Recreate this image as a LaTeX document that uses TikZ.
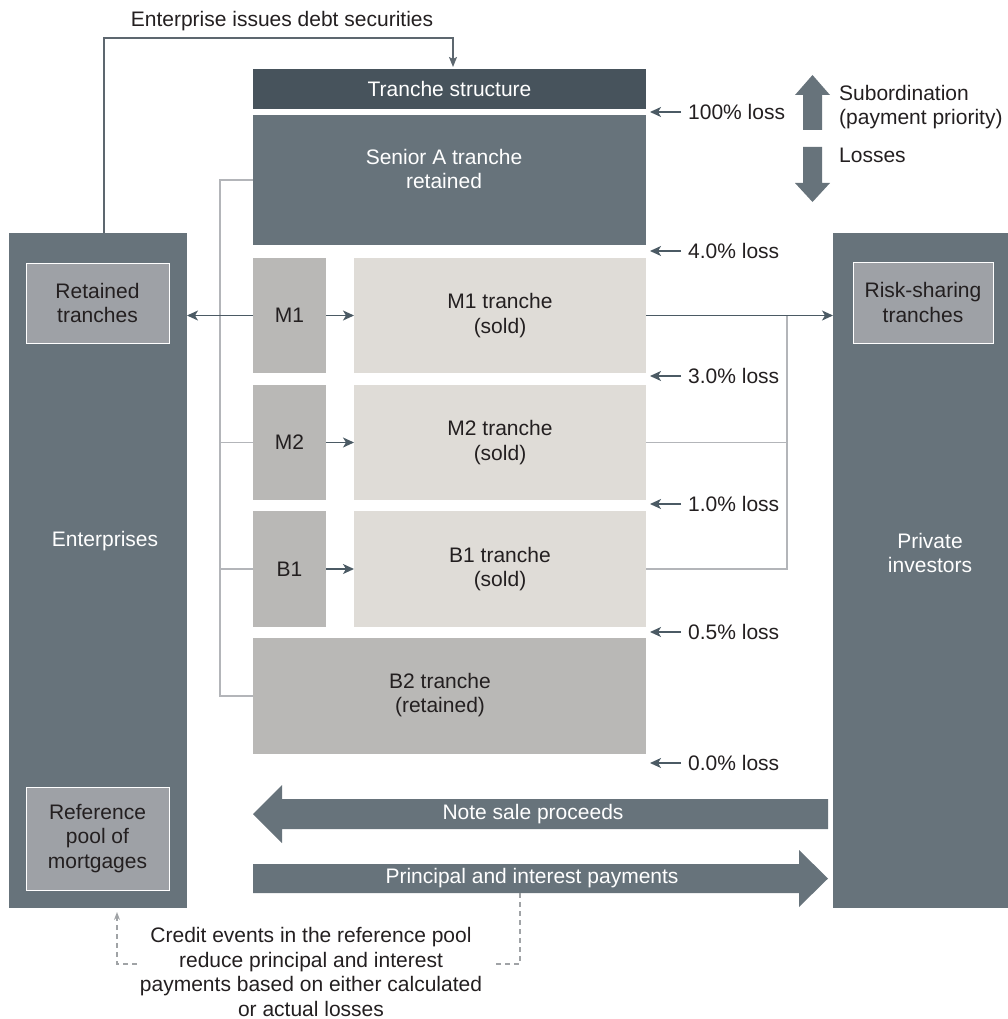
\documentclass[tikz,border=0pt]{standalone}
\usepackage{fontspec}
\setmainfont{Liberation Sans}
\usetikzlibrary{arrows.meta,calc}
\definecolor{slate}{HTML}{67737B}
\definecolor{darkslate}{HTML}{47535C}
\definecolor{innerg}{HTML}{9EA1A6}
\definecolor{midg}{HTML}{B9B8B6}
\definecolor{lightg}{HTML}{DFDCD7}
\definecolor{linedark}{HTML}{4B5A64}
\definecolor{linegrey}{HTML}{B3B5B9}
\definecolor{txt}{HTML}{231F20}
\definecolor{dashg}{HTML}{A0A3A6}
\begin{document}
\begin{tikzpicture}[x=1pt,y=-1pt,
  font=\fontsize{21}{24.5}\selectfont,
  box/.style={anchor=north west, inner sep=0pt, outer sep=0pt, align=center, text=txt},
  outerbox/.style={box, fill=slate},
  innerbox/.style={box, fill=innerg, draw=white, line width=0.8pt},
  lbl/.style={inner sep=0pt, align=center, text=txt},
  wlbl/.style={inner sep=0pt, align=center, text=white},
  darrow/.style={draw=linedark, line width=1.5pt, -{Stealth[length=11pt,width=10pt,inset=3pt]}},
  gline/.style={draw=linegrey, line width=1.5pt},
  topline/.style={draw=slate!90!black, line width=1.5pt, -{Stealth[length=10pt,width=8pt,inset=2pt]}},
  dline/.style={draw=dashg, line width=1.2pt, dash pattern=on 5pt off 4pt},
  bigarrow/.style={fill=slate}
]
\useasboundingbox (0,0) rectangle (1008,1019);

% side columns
\node[outerbox, minimum width=178, minimum height=675] (ent) at (9,233) {};
\node[innerbox, minimum width=143, minimum height=80] (ret) at (26,263) {Retained\\tranches};
\node[innerbox, minimum width=143, minimum height=103] (refpool) at (26,787) {Reference\\pool of\\mortgages};
\node[wlbl] (entlbl) at (105,541) {Enterprises};

\node[outerbox, minimum width=175, minimum height=675] (priv) at (833,233) {};
\node[innerbox, minimum width=140, minimum height=81] (risk) at (853,262) {Risk-sharing\\tranches};
\node[wlbl] (privlbl) at (930,553) {Private\\investors};

% tranche stack
\node[box, fill=darkslate, text=white, minimum width=393, minimum height=40] (ts) at (253,69) {Tranche structure};
\node[box, fill=slate, minimum width=393, minimum height=130] (sr) at (253,115) {};
\node[wlbl] (srlbl) at (444,169) {Senior A tranche\\retained};

\node[box, fill=midg, minimum width=73, minimum height=115] (m1) at (253,258) {M1};
\node[box, fill=lightg, minimum width=292, minimum height=115] (m1t) at (354,258) {M1 tranche\\(sold)};
\node[box, fill=midg, minimum width=73, minimum height=115] (m2) at (253,385) {M2};
\node[box, fill=lightg, minimum width=292, minimum height=115] (m2t) at (354,385) {M2 tranche\\(sold)};
\node[box, fill=midg, minimum width=73, minimum height=116] (b1) at (253,511) {B1};
\node[box, fill=lightg, minimum width=292, minimum height=116] (b1t) at (354,511) {B1 tranche\\(sold)};
\node[box, fill=midg, minimum width=393, minimum height=116] (b2) at (253,638) {};
\node[lbl] (b2lbl) at (440,695) {B2 tranche\\(retained)};

% loss labels
\foreach \nm/\yy/\tx in {l100/112/100\%, l40/251/4.0\%, l30/376/3.0\%, l10/504/1.0\%, l05/632/0.5\%, l00/763/0.0\%}{
  \node[lbl, anchor=west] (\nm) at (688,\yy) {\tx{} loss};
  \coordinate (\nm g) at (650,\yy);
  \draw[darrow] ([xshift=-7pt]\nm.west) -- (\nm g);
}

% subordination arrows
\fill[slate] (812.5,75) -- (830,95) -- (822,95) -- (822,130) -- (803,130) -- (803,95) -- (795,95) -- cycle;
\fill[slate] (803,147) -- (822,147) -- (822,183) -- (830,183) -- (812.5,202) -- (795,183) -- (803,183) -- cycle;
\node[lbl, anchor=west, align=left] (subord) at (839,107) {Subordination\\(payment priority)};
\node[lbl, anchor=west] (losses) at (839,155) {Losses};

% top issue line
\node[lbl] (issue) at (282,21) {Enterprise issues debt securities};
\coordinate (topcorner) at (453,38);
\draw[topline] ([xshift=6pt]ent.north) |- (topcorner) -- ([yshift=2pt]ts.north -| topcorner);

% left connectors
\draw[gline] (sr.west) -- ++(-33,0) coordinate (lbus) |- (b2.west);
\draw[gline] (m2.west) -- ++(-33,0);
\draw[gline] (b1.west) -- ++(-33,0);
\draw[darrow] (m1.west) -- (m1.west -| ent.east);

% small arrows
\draw[darrow] (m1.east) -- (m1t.west);
\draw[darrow] (m2.east) -- (m2t.west);
\draw[darrow] (b1.east) -- (b1t.west);

% right connectors
\draw[gline] (m2t.east) -- ++(141,0);
\draw[gline] (b1t.east) -- ++(141,0) -- ($(m1t.east)+(141,0)$);
\draw[darrow] (m1t.east) -- (m1t.east -| priv.west);

% big flow arrows
\fill[bigarrow] (828,799) -- (282,799) -- (282,785) -- (253,814) -- (282,843) -- (282,829) -- (828,829) -- cycle;
\node[wlbl] (notesale) at (533,814) {Note sale proceeds};
\fill[bigarrow] (253,864) -- (799,864) -- (799,850) -- (828,878.5) -- (799,907) -- (799,893) -- (253,893) -- cycle;
\node[wlbl] (pi) at (532,878) {Principal and interest payments};

% credit events
\node[lbl, font=\fontsize{21}{24.7}\selectfont] (credit) at (311,972) {Credit events in the reference pool\\reduce principal and interest\\payments based on either calculated\\or actual losses};
\draw[dline] (520,893) -- (520,964) -- (495,964);
\draw[dline, -{Stealth[length=8pt,width=6pt]}] (137,964) -- (117,964) -- ([yshift=-4pt]ent.south -| 117,0);
\end{tikzpicture}
\end{document}
